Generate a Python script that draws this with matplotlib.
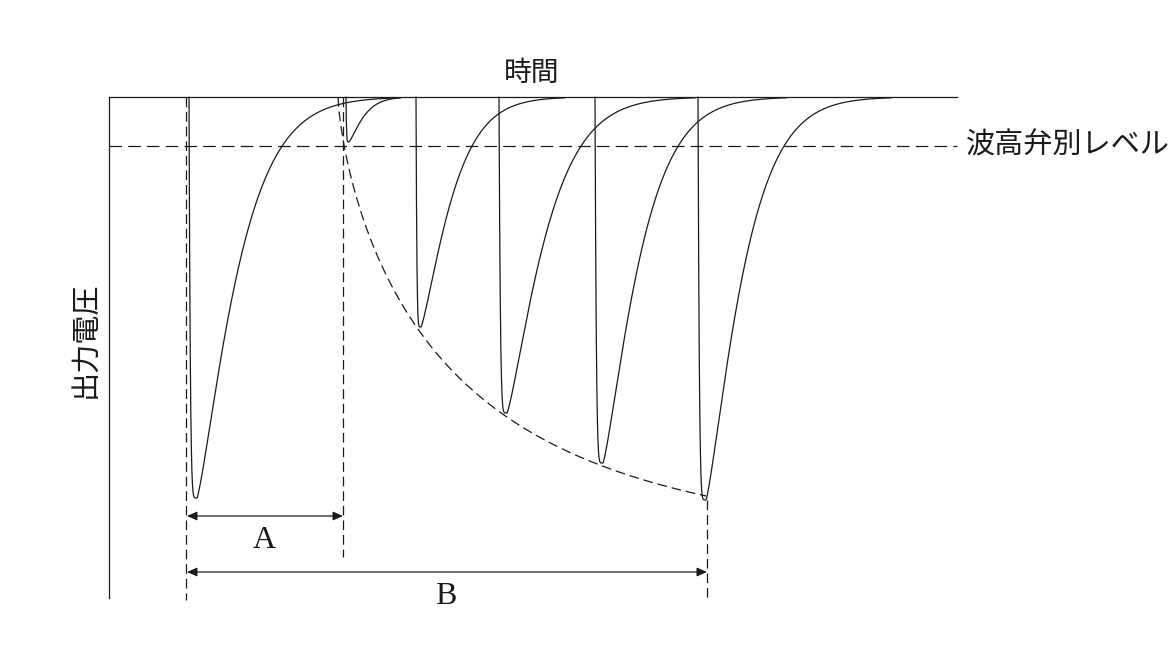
import numpy as np
import matplotlib
matplotlib.use("Agg")
import matplotlib.pyplot as plt

plt.rcParams['font.family'] = ['Noto Sans CJK JP', 'DejaVu Sans']
plt.rcParams['lines.scale_dashes'] = False

# ---- data (time in arbitrary units, output voltage negative downward) ----
pulse_start = [189, 346, 416, 499, 595, 698]      # time the pulse begins
pulse_peak = [197, 349, 421, 507, 603, 706]       # time of the pulse minimum
pulse_depth = [401, 45, 230, 316, 366, 403]       # pulse amplitude
pulse_width = [47, 17, 36, 45, 43, 43]            # recovery time constant
rise_power = 1.25
fall_power = 6

time_range = [109, 957]        # extent of the time axis (baseline)
level_value = -49              # discrimination level
vaxis_bottom = -501            # bottom of the voltage axis

# recovery envelope of pulse amplitude
env_start, env_end = 338, 706
env_max, env_tau, env_power = 450, 125, 0.72

# interval markers
interval_A = [187, 343]
interval_B = [187, 707]
arrow_A_y = -419
arrow_B_y = -475

title_time = "時間"
label_voltage = "出力電圧"
label_level = "波高弁別レベル"
labels_AB = ["A", "B"]

ink = "#1a1a1a"
lw = 0.9

fig = plt.figure(figsize=(11.73, 6.61), dpi=100)
ax = fig.add_axes([0, 0, 1, 1])
ax.set_xlim(0, 1173)
ax.set_ylim(-564, 97)
ax.axis("off")

# axes lines
ax.plot(time_range, [0, 0], color=ink, lw=lw)
ax.plot([time_range[0], time_range[0]], [0, vaxis_bottom], color=ink, lw=lw)

# discrimination level
ax.plot(time_range, [level_value, level_value], color=ink, lw=lw,
        linestyle=(0, (9, 4.5)))

# pulses
for t0, tp, d, w in zip(pulse_start, pulse_peak, pulse_depth, pulse_width):
    tf = np.linspace(t0, tp, 200)
    vf = -d * (1 - ((tp - tf) / (tp - t0)) ** fall_power)
    tend = tp + w * (np.log(d / 0.8)) ** (1 / rise_power)
    tr = np.linspace(tp, tend, 600)
    vr = -d * np.exp(-((tr - tp) / w) ** rise_power)
    ax.plot(np.concatenate([tf, tr]), np.concatenate([vf, vr]),
            color=ink, lw=lw, solid_capstyle="round")

# recovery envelope
te = np.linspace(env_start, env_end, 400)
ve = -env_max * (1 - np.exp(-((te - env_start) / env_tau) ** env_power))
ax.plot(te, ve, color=ink, lw=lw, linestyle=(0, (7, 3.5)))

# dashed vertical guides
dash_v = (0, (7, 3.5))
ax.plot([186, 186], [0, -503], color=ink, lw=lw, linestyle=dash_v)
ax.plot([343, 343], [0, -460], color=ink, lw=lw, linestyle=dash_v)
ax.plot([707, 707], [-pulse_depth[-1], -503], color=ink, lw=lw, linestyle=dash_v)

# interval arrows
for (xa, xb), y in [(interval_A, arrow_A_y), (interval_B, arrow_B_y)]:
    ax.annotate("", xy=(xb, y), xytext=(xa, y),
                arrowprops=dict(arrowstyle="<|-|>,head_length=0.5,head_width=0.22",
                                mutation_scale=12, lw=lw, color=ink,
                                shrinkA=0, shrinkB=0))

serif = ["Liberation Serif", "DejaVu Serif"]
ax.text(264, -444, labels_AB[0], family=serif, fontsize=23, color=ink,
        ha="center", va="center")
ax.text(446, -500, labels_AB[1], family=serif, fontsize=23, color=ink,
        ha="center", va="center")

ax.text(532, 24, title_time, fontsize=20, color=ink, ha="center", va="center")
ax.text(86, -243, label_voltage, fontsize=21, color=ink, rotation=90,
        ha="center", va="center")
ax.text(966, level_value, label_level, fontsize=21, color=ink,
        ha="left", va="center")

fig.savefig("out.png", dpi=100)
